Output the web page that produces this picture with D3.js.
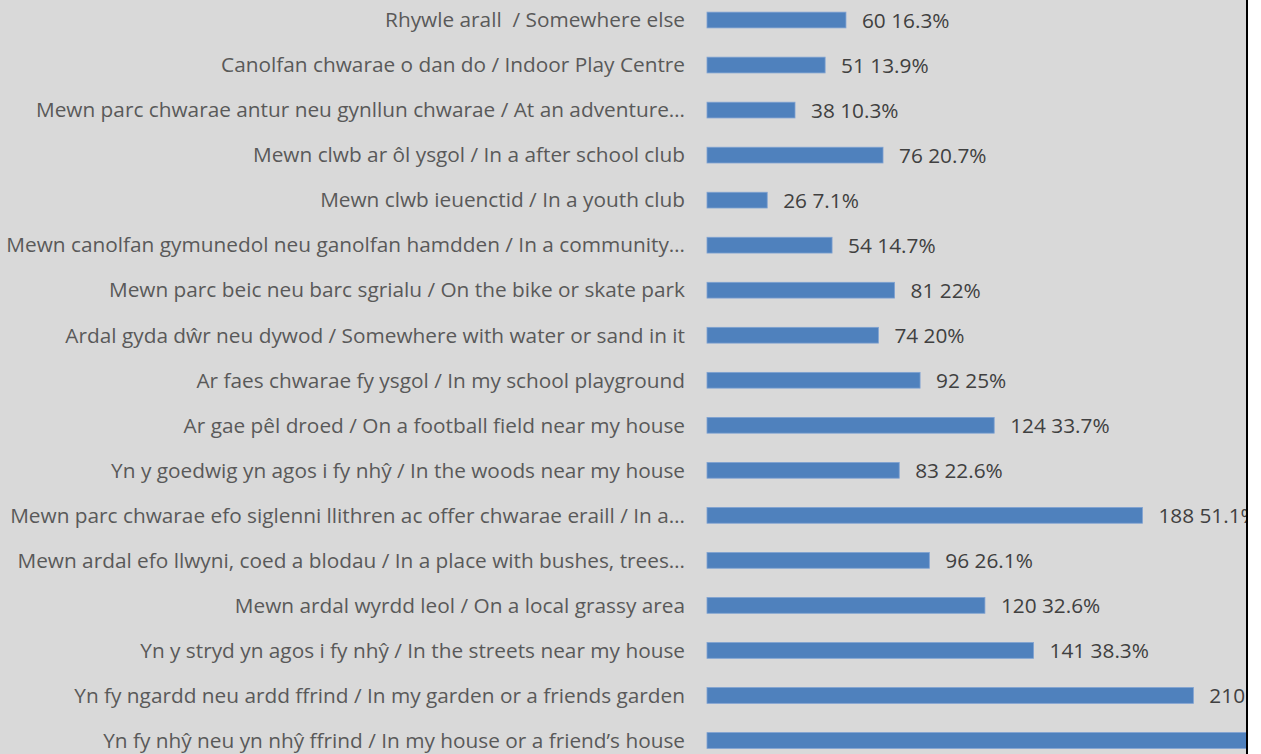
<!DOCTYPE html>
<html>
<head>
<meta charset="utf-8">
<script src="https://cdn.jsdelivr.net/npm/d3@7"></script>
<style>
  html, body { margin: 0; padding: 0; background: #ffffff; }
  svg { display: block; }
  text { white-space: pre; }
</style>
</head>
<body>
<div id="chart"></div>
<script>
// categories top to bottom, as they appear in the chart
var categories = [
  "Rhywle arall  / Somewhere else",
  "Canolfan chwarae o dan do / Indoor Play Centre",
  "Mewn parc chwarae antur neu gynllun chwarae / At an adventure…",
  "Mewn clwb ar ôl ysgol / In a after school club",
  "Mewn clwb ieuenctid / In a youth club",
  "Mewn canolfan gymunedol neu ganolfan hamdden / In a community…",
  "Mewn parc beic neu barc sgrialu / On the bike or skate park",
  "Ardal gyda dŵr neu dywod / Somewhere with water or sand in it",
  "Ar faes chwarae fy ysgol / In my school playground",
  "Ar gae pêl droed / On a football field near my house",
  "Yn y goedwig yn agos i fy nhŷ / In the woods near my house",
  "Mewn parc chwarae efo siglenni llithren ac offer chwarae eraill / In a…",
  "Mewn ardal efo llwyni, coed a blodau / In a place with bushes, trees…",
  "Mewn ardal wyrdd leol / On a local grassy area",
  "Yn y stryd yn agos i fy nhŷ / In the streets near my house",
  "Yn fy ngardd neu ardd ffrind / In my garden or a friends garden",
  "Yn fy nhŷ neu yn nhŷ ffrind / In my house or a friend’s house"
];

var counts = [60, 51, 38, 76, 26, 54, 81, 74, 92, 124, 83, 188, 96, 120, 141, 210, 262];

var percents = ["16.3%", "13.9%", "10.3%", "20.7%", "7.1%", "14.7%", "22%", "20%", "25%",
                "33.7%", "22.6%", "51.1%", "26.1%", "32.6%", "38.3%", "57.1%", "71.2%"];

var width = 1261, height = 754;
var cutX = 1246;   // the picture is cropped here

var svg = d3.select("#chart")
  .append("svg")
  .attr("width", width)
  .attr("height", height);

svg.append("rect")
  .attr("width", width)
  .attr("height", height)
  .attr("fill", "#ffffff");

svg.append("rect")
  .attr("width", cutX)
  .attr("height", height)
  .attr("fill", "#d9d9d9");

svg.append("clipPath")
  .attr("id", "cut")
  .append("rect")
  .attr("width", cutX)
  .attr("height", height);

var plot = svg.append("g").attr("clip-path", "url(#cut)");

var y = d3.scaleBand()
  .domain(categories)
  .range([-2.5, 763])
  .paddingInner(0.65)
  .paddingOuter(0.325);

var x = d3.scaleLinear()
  .domain([0, 250])
  .range([707, 1286]);

var font = "'Open Sans', 'Noto Sans', sans-serif";

// size the category font so the longest label fits the space left of the bars
var probe = svg.append("text")
  .style("font-family", font)
  .style("font-size", "100px")
  .text(categories[11]);
var labelSize = 100 * 675 / probe.node().getComputedTextLength();
probe.remove();

var data = categories.map(function(c, i) {
  return {cat: c, value: counts[i], pct: percents[i]};
});

plot.selectAll(".bar")
  .data(data)
  .enter()
  .append("rect")
  .attr("class", "bar")
  .attr("x", x(0))
  .attr("y", function(d) { return y(d.cat); })
  .attr("width", function(d) { return x(d.value) - x(0); })
  .attr("height", y.bandwidth())
  .style("fill", "#4f81bd")
  .style("stroke", "#7fa2d2")
  .style("stroke-width", 0.8);

plot.selectAll(".cat")
  .data(data)
  .enter()
  .append("text")
  .attr("class", "cat")
  .attr("x", x(0) - 22)
  .attr("y", function(d) { return y(d.cat) + y.bandwidth() / 2; })
  .attr("dy", "0.35em")
  .attr("text-anchor", "end")
  .style("font-family", font)
  .style("font-size", labelSize + "px")
  .style("fill", "#595959")
  .text(function(d) { return d.cat; });

plot.selectAll(".val")
  .data(data)
  .enter()
  .append("text")
  .attr("class", "val")
  .attr("x", function(d) { return x(d.value) + 16; })
  .attr("y", function(d) { return y(d.cat) + y.bandwidth() / 2; })
  .attr("dy", "0.36em")
  .style("font-family", font)
  .style("font-size", labelSize + "px")
  .style("fill", "#404040")
  .text(function(d) { return d.value + " " + d.pct; });

// black edge where the picture was cropped
svg.append("rect")
  .attr("x", cutX)
  .attr("y", 0)
  .attr("width", 2)
  .attr("height", height)
  .attr("fill", "#000000");
</script>
</body>
</html>
